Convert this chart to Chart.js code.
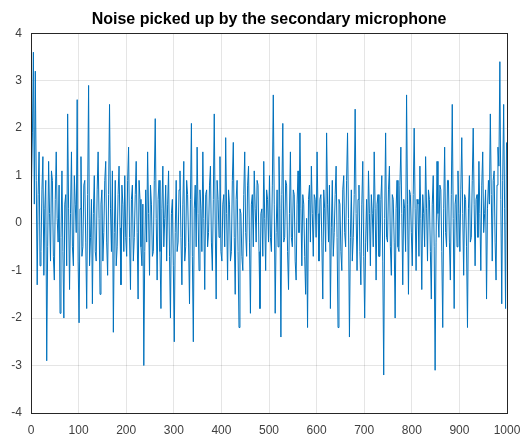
<!DOCTYPE html>
<html>
<head>
<meta charset="utf-8">
<script src="https://cdn.jsdelivr.net/npm/chart.js@4"></script>
<style>
  body { margin: 0; background: #fff; }
  canvas { display: block; }
</style>
</head>
<body>
<canvas id="grab" width="526" height="439"></canvas>
<script>
const chartTitle = "Noise picked up by the secondary microphone";

// values, one every 2 samples (1,3,5,...,999)
const noise = [
  0.8,1.9,3.6,0.4,3.2,0.9,-1.3,0.6,1.5,-0.9,-0.6,0.7,1.4,-1.1,0.3,0.9,-2.9,-0.5,1.3,0.2,-0.8,1.1,0.9,-0.7,-1.2,0.5,1.5,0.1,-0.4,0.8,-1.9,-0.3,1.1,-0.6,-2.0,0.4,0.6,-0.9,2.3,0.3,-1.4,0.2,1.5,-0.5,-0.9,1.0,0.4,-0.2,2.6,-0.8,
  -2.1,0.3,1.4,-0.7,-0.5,0.8,0.9,-0.4,-1.8,0.6,2.9,-0.9,-0.3,0.5,-1.7,0.2,1.0,-0.6,-0.8,0.7,1.5,0.1,-1.5,0.4,0.7,-0.8,-0.2,0.9,1.3,-0.4,-1.1,0.6,2.5,0.3,-0.6,1.1,-2.3,-0.2,0.9,-0.9,-0.5,0.6,1.2,-0.1,-1.3,0.8,0.4,-0.6,1.0,-0.3,
  -0.7,0.9,1.6,-0.3,-1.4,0.5,0.8,-0.8,-0.3,0.6,1.3,-0.2,-1.6,0.9,0.5,-0.5,-0.9,0.4,-3.0,-0.6,0.7,-0.4,1.5,0.2,-1.1,0.8,0.4,-0.7,-0.6,0.9,2.2,0.1,-1.2,0.5,0.9,-0.6,-1.8,0.3,1.2,-0.5,0.1,0.8,-0.8,0.4,1.1,-0.7,-2.0,0.2,0.5,-0.9,
  -2.5,-0.2,0.9,-0.6,-0.4,0.7,1.1,-0.3,-1.3,0.4,1.3,-0.8,-0.5,0.9,0.6,-0.4,-1.7,0.5,2.1,-0.7,-2.5,0.3,0.8,-0.5,1.6,0.2,-1.0,0.7,0.3,-0.6,1.5,0.1,-1.4,0.6,0.7,-0.5,-0.2,0.8,1.2,-0.4,-1.0,0.5,2.3,0.0,-1.6,0.9,0.5,-0.3,1.4,-0.6,
  -0.8,0.4,0.6,-0.5,1.8,0.2,-1.2,0.7,0.4,-0.8,-0.6,0.9,1.7,-0.3,-1.5,0.5,0.9,-0.6,-2.2,0.3,0.2,-0.7,-1.0,0.6,1.5,-0.2,-0.7,0.8,1.2,-0.4,-1.9,0.4,0.6,-0.5,1.1,0.3,-0.4,0.9,0.8,-0.6,-1.8,0.2,0.3,-0.7,1.3,0.1,-1.0,0.7,0.5,-0.4,
  1.0,-0.3,-0.6,0.8,2.7,0.4,-1.9,-0.2,0.7,-0.5,1.4,0.3,-2.4,0.6,2.1,-0.4,-0.3,0.9,0.8,-0.6,-1.4,0.2,1.5,-0.3,-0.5,0.7,0.6,-0.8,-1.2,0.4,1.1,-0.2,1.9,0.3,-0.9,0.6,0.4,-0.7,-1.5,0.1,-2.2,0.5,0.8,-0.4,1.2,0.2,-0.7,0.6,0.5,-0.3,
  1.5,0.2,-0.8,0.5,0.6,-0.4,-1.6,0.7,0.3,-0.6,1.9,0.4,-0.4,0.8,-1.8,-0.1,0.9,-0.7,-0.2,0.6,1.2,-0.3,-2.2,0.5,0.4,-0.6,-1.0,0.7,1.0,-0.2,-0.5,0.9,1.9,0.1,-2.4,-0.3,0.7,-0.8,-0.3,0.6,2.4,0.2,-1.0,0.5,0.8,-0.6,-1.3,0.4,1.3,-0.7,
  -2.0,-0.4,0.5,-0.6,1.1,0.2,-0.9,0.6,0.2,-0.5,1.5,0.3,-1.2,0.4,0.6,-0.7,-0.7,0.5,1.0,-0.8,-3.2,0.1,1.9,-0.3,-0.4,0.7,1.2,-0.5,-1.1,0.6,0.5,-0.4,-2.0,0.3,0.9,-0.5,-0.6,0.8,1.6,0.2,-1.3,0.5,0.3,-0.6,2.7,0.4,-1.5,0.7,0.6,-0.2,
  -0.9,0.6,2.0,0.3,-1.0,0.5,0.4,-0.7,1.2,0.1,-1.4,0.6,0.2,-0.5,1.4,0.3,-0.8,0.7,0.5,-0.6,-1.6,0.4,1.0,-0.5,-3.1,-0.4,1.3,0.2,-0.3,0.8,0.7,-0.6,-2.2,0.3,1.6,-0.2,-0.5,0.9,0.9,-0.4,-1.2,0.6,2.5,0.1,-1.8,0.4,0.6,-0.5,1.1,0.2,
  -0.6,0.7,1.8,0.2,-1.1,0.6,0.5,-0.5,-2.2,0.3,1.0,-0.4,-0.3,0.9,2.0,0.4,-0.9,0.5,0.6,-0.3,1.3,0.2,-1.0,0.8,1.5,-0.2,0.2,0.7,-1.6,0.3,0.9,0.4,2.3,0.6,-0.8,0.9,1.1,-0.4,-1.2,0.8,1.6,1.2,3.4,0.5,-1.7,0.9,2.5,0.3,-1.8,1.7
];

// sample number of each value above (matlab's 1:2:999)
const sampleIdx = noise.map((v, i) => 1 + 2 * i);

const xTicks = [0,100,200,300,400,500,600,700,800,900,1000];
const yTicks = [-4,-3,-2,-1,0,1,2,3,4];

// box around the axes, like matlab's "box on"
// and centre the title over the axes instead of the whole canvas
const boxPlugin = {
  id: "box",
  afterLayout: (chart) => {
    if (chart.titleBlock) {
      chart.titleBlock.left = chart.chartArea.left;
      chart.titleBlock.right = chart.chartArea.right;
    }
  },
  afterDraw: (chart) => {
    const a = chart.chartArea;
    const ctx = chart.ctx;
    ctx.save();
    ctx.strokeStyle = "#262626";
    ctx.lineWidth = 1;
    ctx.strokeRect(Math.round(a.left) + 0.5, Math.round(a.top) + 0.5,
      Math.round(a.right - a.left), Math.round(a.bottom - a.top));
    ctx.restore();
  }
};

const grph = document.querySelector("#grab");

const pts = sampleIdx.map((s, i) => ({ x: s, y: noise[i] }));

new Chart(grph, {
  type: "line",
  data: {
    datasets: [{
      data: pts,
      borderColor: "#0072bd",
      borderWidth: 1,
      pointRadius: 0,
      tension: 0,
      fill: false
    }]
  },
  options: {
    responsive: false,
    animation: false,
    layout: { padding: { left: 0, right: 19, top: 0, bottom: 0 } },
    plugins: {
      legend: { display: false },
      tooltip: { enabled: false },
      title: {
        display: true,
        text: chartTitle,
        color: "#000",
        font: { family: "Liberation Sans, Arial", size: 16, weight: "bold" },
        padding: { top: 10, bottom: 4 }
      }
    },
    scales: {
      x: {
        type: "linear",
        min: 0,
        max: 1000,
        afterBuildTicks: (s) => { s.ticks = xTicks.map(v => ({ value: v })); },
        afterFit: (s) => {
          s.height = 26;
          // let "1000" hang into the right margin
          s.paddingLeft = 0;
          s.paddingRight = 0;
        },
        ticks: {
          color: "#404040",
          font: { family: "Liberation Sans, Arial", size: 12 },
          padding: 10,
          maxRotation: 0,
          callback: (v) => String(v)
        },
        grid: { color: "rgba(0,0,0,0.1)", drawTicks: false },
        border: { display: false }
      },
      y: {
        min: -4,
        max: 4,
        afterBuildTicks: (s) => { s.ticks = yTicks.map(v => ({ value: v })); },
        afterFit: (s) => { s.width = 31; },
        ticks: {
          color: "#404040",
          font: { family: "Liberation Sans, Arial", size: 12 },
          padding: 9
        },
        grid: { color: "rgba(0,0,0,0.1)", drawTicks: false },
        border: { display: false }
      }
    }
  },
  plugins: [boxPlugin]
});
</script>
</body>
</html>
